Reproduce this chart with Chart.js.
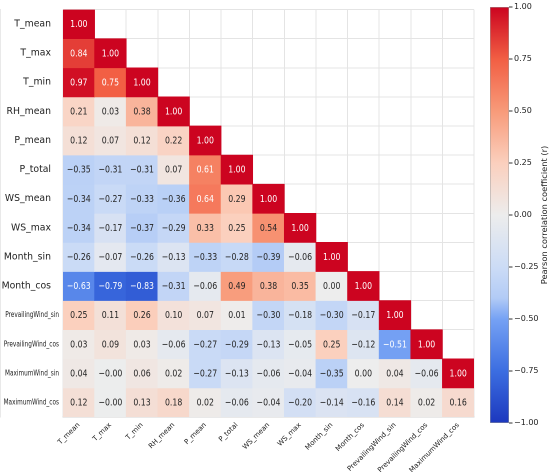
<!DOCTYPE html>
<html>
<head>
<meta charset="utf-8">
<script src="https://cdn.jsdelivr.net/npm/chart.js@4"></script>
<style>
  html, body { margin: 0; padding: 0; background: #ffffff; }
  #wrap { position: relative; width: 550px; height: 472px; overflow: hidden; }
  #heat { position: absolute; left: 0; top: 0; }
  #cbar { position: absolute; left: 470px; top: 0; }
</style>
</head>
<body>
<div id="wrap">
  <canvas id="heat" width="550" height="472"></canvas>
  <canvas id="cbar" width="80" height="472"></canvas>
</div>
<script>
// ---------- data ----------
const rowLabels = ['T_mean','T_max','T_min','RH_mean','P_mean','P_total','WS_mean','WS_max',
  'Month_sin','Month_cos','PrevailingWind_sin','PrevailingWind_cos','MaximumWind_sin','MaximumWind_cos'];
const colLabels = ['T_mean','T_max','T_min','RH_mean','P_mean','P_total','WS_mean','WS_max',
  'Month_sin','Month_cos','PrevailingWind_sin','PrevailingWind_cos','MaximumWind_cos'];

const rowTmean   = [1.00];
const rowTmax    = [0.84, 1.00];
const rowTmin    = [0.97, 0.75, 1.00];
const rowRHmean  = [0.21, 0.03, 0.38, 1.00];
const rowPmean   = [0.12, 0.07, 0.12, 0.22, 1.00];
const rowPtotal  = [-0.35, -0.31, -0.31, 0.07, 0.61, 1.00];
const rowWSmean  = [-0.34, -0.27, -0.33, -0.36, 0.64, 0.29, 1.00];
const rowWSmax   = [-0.34, -0.17, -0.37, -0.29, 0.33, 0.25, 0.54, 1.00];
const rowMsin    = [-0.26, -0.07, -0.26, -0.13, -0.33, -0.28, -0.39, -0.06, 1.00];
const rowMcos    = [-0.63, -0.79, -0.83, -0.31, -0.06, 0.49, 0.38, 0.35, 0.00, 1.00];
const rowPWsin   = [0.25, 0.11, 0.26, 0.10, 0.07, 0.01, -0.30, -0.18, -0.30, -0.17, 1.00];
const rowPWcos   = [0.03, 0.09, 0.03, -0.06, -0.27, -0.29, -0.13, -0.05, 0.25, -0.12, -0.51, 1.00];
const rowMWsin   = [0.04, -0.004, 0.06, 0.02, -0.27, -0.13, -0.06, -0.04, -0.35, 0.00, 0.04, -0.06, 1.00];
const rowMWcos   = [0.12, -0.004, 0.13, 0.18, 0.02, -0.06, -0.04, -0.20, -0.14, -0.16, 0.14, 0.02, 0.16];

const corrRows = [rowTmean, rowTmax, rowTmin, rowRHmean, rowPmean, rowPtotal, rowWSmean, rowWSmax,
  rowMsin, rowMcos, rowPWsin, rowPWcos, rowMWsin, rowMWcos];

const colorbarTicks = [-1, -0.75, -0.5, -0.25, 0, 0.25, 0.5, 0.75, 1];
const colorbarTitle = 'Pearson correlation coefficient (r)';

// ---------- colormap ----------
const cmapStops = [
  [-1.00, [28, 56, 190]],
  [-0.75, [60, 110, 225]],
  [-0.50, [118, 162, 244]],
  [-0.40, [178, 203, 246]],
  [-0.25, [204, 220, 246]],
  [ 0.00, [237, 237, 237]],
  [ 0.25, [251, 208, 190]],
  [ 0.50, [248, 155, 122]],
  [ 0.75, [242, 95, 68]],
  [ 1.00, [204, 4, 32]]
];
function cmap(v) {
  v = Math.max(-1, Math.min(1, v));
  for (let i = 0; i < cmapStops.length - 1; i++) {
    const [a, ca] = cmapStops[i], [b, cb] = cmapStops[i + 1];
    if (v >= a && v <= b) {
      const t = (v - a) / (b - a);
      const c = ca.map((x, k) => Math.round(x + (cb[k] - x) * t));
      return 'rgb(' + c.join(',') + ')';
    }
  }
  return 'rgb(204,4,32)';
}
function fmt(v) {
  return v.toFixed(2).replace('-', '\u2212');
}
const isLong = (s) => s.length > 12;

const FONT = "'DejaVu Sans', sans-serif";

// ---------- heatmap ----------
const datasets = corrRows.map((row, r) => ({
  label: rowLabels[r],
  corr: row,
  data: colLabels.map((_, c) => (c < row.length ? [r - 0.5, r + 0.5] : null)),
  backgroundColor: (ctx) => cmap(row[ctx.dataIndex] ?? 0),
  borderWidth: 0,
  barPercentage: 1,
  categoryPercentage: 1,
  grouped: false
}));

const cellText = {
  id: 'cellText',
  afterDatasetsDraw(chart) {
    const ctx = chart.ctx;
    ctx.save();
    ctx.font = '10px ' + FONT;
    ctx.textAlign = 'center';
    ctx.textBaseline = 'middle';
    chart.data.datasets.forEach((ds, r) => {
      const meta = chart.getDatasetMeta(r);
      meta.data.forEach((el, c) => {
        if (ds.data[c] == null) return;
        const v = ds.corr[c];
        const p = el.getProps(['x', 'y', 'base'], true);
        const cy = (p.y + p.base) / 2;
        ctx.fillStyle = (v >= 0.6 || v <= -0.5) ? '#ffffff' : '#262626';
        ctx.save();
        ctx.translate(p.x, cy + 0.5);
        ctx.scale(0.78, 1);
        ctx.fillText(fmt(v), 0, 0);
        ctx.restore();
      });
    });
    ctx.restore();
  }
};

// long row names are drawn narrower at the y-axis tick positions
const longRowLabels = {
  id: 'longRowLabels',
  afterDraw(chart) {
    const ctx = chart.ctx;
    const ys = chart.scales.y;
    ctx.save();
    ctx.font = '8px ' + FONT;
    ctx.fillStyle = '#222';
    ctx.textAlign = 'right';
    ctx.textBaseline = 'middle';
    rowLabels.forEach((name, i) => {
      if (!isLong(name)) return;
      const py = ys.getPixelForValue(i);
      ctx.save();
      ctx.translate(ys.right - 4, py);
      ctx.scale(0.72, 1);
      ctx.fillText(name, 0, 0);
      ctx.restore();
    });
    ctx.restore();
  }
};

new Chart(document.getElementById('heat'), {
  type: 'bar',
  data: { labels: colLabels, datasets },
  options: {
    responsive: false,
    animation: false,
    devicePixelRatio: 2,
    layout: { padding: { top: 7, right: 76, left: 0, bottom: 0 } },
    plugins: { legend: { display: false }, tooltip: { enabled: false } },
    scales: {
      x: {
        type: 'category',
        offset: true,
        grid: { display: true, offset: true, color: '#e4e4e4', lineWidth: 1, drawTicks: false },
        border: { display: true, color: '#d2d2d2' },
        ticks: {
          minRotation: 45, maxRotation: 45, autoSkip: false, padding: 4,
          color: '#222', font: { family: FONT, size: 7 }
        },
        afterFit(scale) { scale.height = 55; }
      },
      y: {
        type: 'linear',
        reverse: true,
        min: -0.5, max: 13.5,
        position: 'left',
        grid: { display: false },
        border: { display: false },
        afterBuildTicks(scale) { scale.ticks = rowLabels.map((_, i) => ({ value: i })); },
        ticks: {
          autoSkip: false, padding: 4, color: '#222',
          callback: (v) => (isLong(rowLabels[v]) ? '' : rowLabels[v]),
          font: { family: FONT, size: 9.3 }
        },
        afterFit(scale) { scale.width = 63; }
      },
      yGrid: {
        type: 'linear',
        reverse: true,
        min: -0.5, max: 13.5,
        position: 'left',
        grid: { display: true, color: '#e4e4e4', lineWidth: 1, drawTicks: false },
        border: { display: true, color: '#d2d2d2' },
        afterBuildTicks(scale) {
          scale.ticks = Array.from({ length: rowLabels.length + 1 }, (_, i) => ({ value: i - 0.5 }));
        },
        ticks: { display: false },
        afterFit(scale) { scale.width = 0; }
      }
    }
  },
  plugins: [cellText, longRowLabels]
});

// ---------- colorbar ----------
const cbTitle = {
  id: 'cbTitle',
  afterDraw(chart) {
    const ctx = chart.ctx;
    const ca = chart.chartArea;
    ctx.save();
    ctx.font = '8.3px ' + FONT;
    ctx.fillStyle = '#222';
    ctx.textAlign = 'center';
    ctx.textBaseline = 'middle';
    ctx.translate(75, (ca.top + ca.bottom) / 2);
    ctx.rotate(-Math.PI / 2);
    ctx.fillText(colorbarTitle, 0, 0);
    ctx.restore();
  }
};

new Chart(document.getElementById('cbar'), {
  type: 'bar',
  data: {
    labels: ['r'],
    datasets: [{
      data: [[colorbarTicks[0], colorbarTicks[colorbarTicks.length - 1]]],
      backgroundColor: (ctx) => {
        const ca = ctx.chart.chartArea;
        if (!ca) return '#cccccc';
        const g = ctx.chart.ctx.createLinearGradient(0, ca.bottom, 0, ca.top);
        cmapStops.forEach(([v]) => g.addColorStop((v + 1) / 2, cmap(v)));
        return g;
      },
      borderColor: '#9a9a9a',
      borderWidth: 0.8,
      borderSkipped: false,
      barPercentage: 1,
      categoryPercentage: 1
    }]
  },
  options: {
    responsive: false,
    animation: false,
    devicePixelRatio: 2,
    layout: { padding: { top: 7, left: 20, right: 0, bottom: 49 } },
    plugins: { legend: { display: false }, tooltip: { enabled: false } },
    scales: {
      x: { display: false, offset: true },
      y: {
        type: 'linear',
        position: 'right',
        min: -1, max: 1,
        afterBuildTicks(scale) { scale.ticks = colorbarTicks.map((v) => ({ value: v })); },
        grid: { display: true, drawOnChartArea: false, drawTicks: true, tickLength: 3.5, color: '#333' },
        border: { display: false },
        ticks: {
          padding: 1.5, color: '#222',
          font: { family: FONT, size: 8 },
          callback: (v) => fmt(v)
        },
        afterFit(scale) { scale.width = 41; }
      }
    }
  },
  plugins: [cbTitle]
});
</script>
</body>
</html>
